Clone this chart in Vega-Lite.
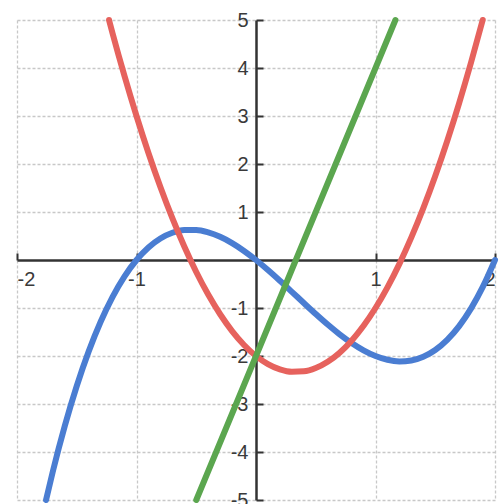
{
  "$schema": "https://vega.github.io/schema/vega-lite/v6.json",
  "width": 478,
  "height": 480,
  "autosize": {"type": "none"},
  "padding": {"left": 17, "top": 20, "right": 5, "bottom": 4},
  "background": "white",
  "config": {
    "view": {"stroke": null},
    "axis": {
      "title": null,
      "grid": true,
      "gridColor": "#c8c8c8",
      "gridDash": [3, 2],
      "gridWidth": 1.3,
      "domainColor": "#333333",
      "domainWidth": 2.5,
      "tickColor": "#333333",
      "tickWidth": 2,
      "tickSize": -7,
      "labelFont": "Liberation Sans",
      "labelFontSize": 20,
      "labelColor": "#3a3a3a",
      "labelExpr": "'' + datum.value"
    }
  },
  "data": {
    "values": [
      {"fn": "f", "x": -1.757, "y": -5},
      {"fn": "f", "x": -1.7, "y": -4.403},
      {"fn": "f", "x": -1.6, "y": -3.456},
      {"fn": "f", "x": -1.5, "y": -2.625},
      {"fn": "f", "x": -1.4, "y": -1.904},
      {"fn": "f", "x": -1.3, "y": -1.287},
      {"fn": "f", "x": -1.2, "y": -0.768},
      {"fn": "f", "x": -1.1, "y": -0.341},
      {"fn": "f", "x": -1.0, "y": 0},
      {"fn": "f", "x": -0.9, "y": 0.261},
      {"fn": "f", "x": -0.8, "y": 0.448},
      {"fn": "f", "x": -0.7, "y": 0.567},
      {"fn": "f", "x": -0.6, "y": 0.624},
      {"fn": "f", "x": -0.5, "y": 0.625},
      {"fn": "f", "x": -0.4, "y": 0.576},
      {"fn": "f", "x": -0.3, "y": 0.483},
      {"fn": "f", "x": -0.2, "y": 0.352},
      {"fn": "f", "x": -0.1, "y": 0.189},
      {"fn": "f", "x": 0.0, "y": 0},
      {"fn": "f", "x": 0.1, "y": -0.209},
      {"fn": "f", "x": 0.2, "y": -0.432},
      {"fn": "f", "x": 0.3, "y": -0.663},
      {"fn": "f", "x": 0.4, "y": -0.896},
      {"fn": "f", "x": 0.5, "y": -1.125},
      {"fn": "f", "x": 0.6, "y": -1.344},
      {"fn": "f", "x": 0.7, "y": -1.547},
      {"fn": "f", "x": 0.8, "y": -1.728},
      {"fn": "f", "x": 0.9, "y": -1.881},
      {"fn": "f", "x": 1.0, "y": -2},
      {"fn": "f", "x": 1.1, "y": -2.079},
      {"fn": "f", "x": 1.2, "y": -2.112},
      {"fn": "f", "x": 1.3, "y": -2.093},
      {"fn": "f", "x": 1.4, "y": -2.016},
      {"fn": "f", "x": 1.5, "y": -1.875},
      {"fn": "f", "x": 1.6, "y": -1.664},
      {"fn": "f", "x": 1.7, "y": -1.377},
      {"fn": "f", "x": 1.8, "y": -1.008},
      {"fn": "f", "x": 1.9, "y": -0.551},
      {"fn": "f", "x": 2.0, "y": 0},
      {"fn": "f1", "x": -1.23, "y": 5},
      {"fn": "f1", "x": -1.2, "y": 4.72},
      {"fn": "f1", "x": -1.1, "y": 3.83},
      {"fn": "f1", "x": -1.0, "y": 3},
      {"fn": "f1", "x": -0.9, "y": 2.23},
      {"fn": "f1", "x": -0.8, "y": 1.52},
      {"fn": "f1", "x": -0.7, "y": 0.87},
      {"fn": "f1", "x": -0.6, "y": 0.28},
      {"fn": "f1", "x": -0.5, "y": -0.25},
      {"fn": "f1", "x": -0.4, "y": -0.72},
      {"fn": "f1", "x": -0.3, "y": -1.13},
      {"fn": "f1", "x": -0.2, "y": -1.48},
      {"fn": "f1", "x": -0.1, "y": -1.77},
      {"fn": "f1", "x": 0.0, "y": -2},
      {"fn": "f1", "x": 0.1, "y": -2.17},
      {"fn": "f1", "x": 0.2, "y": -2.28},
      {"fn": "f1", "x": 0.3, "y": -2.33},
      {"fn": "f1", "x": 0.4, "y": -2.32},
      {"fn": "f1", "x": 0.5, "y": -2.25},
      {"fn": "f1", "x": 0.6, "y": -2.12},
      {"fn": "f1", "x": 0.7, "y": -1.93},
      {"fn": "f1", "x": 0.8, "y": -1.68},
      {"fn": "f1", "x": 0.9, "y": -1.37},
      {"fn": "f1", "x": 1.0, "y": -1},
      {"fn": "f1", "x": 1.1, "y": -0.57},
      {"fn": "f1", "x": 1.2, "y": -0.08},
      {"fn": "f1", "x": 1.3, "y": 0.47},
      {"fn": "f1", "x": 1.4, "y": 1.08},
      {"fn": "f1", "x": 1.5, "y": 1.75},
      {"fn": "f1", "x": 1.6, "y": 2.48},
      {"fn": "f1", "x": 1.7, "y": 3.27},
      {"fn": "f1", "x": 1.8, "y": 4.12},
      {"fn": "f1", "x": 1.897, "y": 5},
      {"fn": "f2", "x": -0.5, "y": -5},
      {"fn": "f2", "x": 1.1667, "y": 5}
    ]
  },
  "mark": {"type": "line", "strokeWidth": 6, "strokeCap": "round", "strokeJoin": "round", "interpolate": "monotone"},
  "encoding": {
    "x": {
      "field": "x",
      "type": "quantitative",
      "scale": {"domain": [-2, 2], "nice": false, "zero": false},
      "axis": {"orient": "bottom", "offset": -240, "values": [-2, -1, 1, 2], "labelPadding": 16}
    },
    "y": {
      "field": "y",
      "type": "quantitative",
      "scale": {"domain": [-5, 5], "nice": false, "zero": false},
      "axis": {"orient": "left", "offset": -239, "values": [-5, -4, -3, -2, -1, 1, 2, 3, 4, 5], "labelPadding": 15}
    },
    "color": {
      "field": "fn",
      "type": "nominal",
      "scale": {"domain": ["f", "f1", "f2"], "range": ["#4a7dd2", "#e6625d", "#5ba64f"]},
      "legend": null
    }
  }
}
